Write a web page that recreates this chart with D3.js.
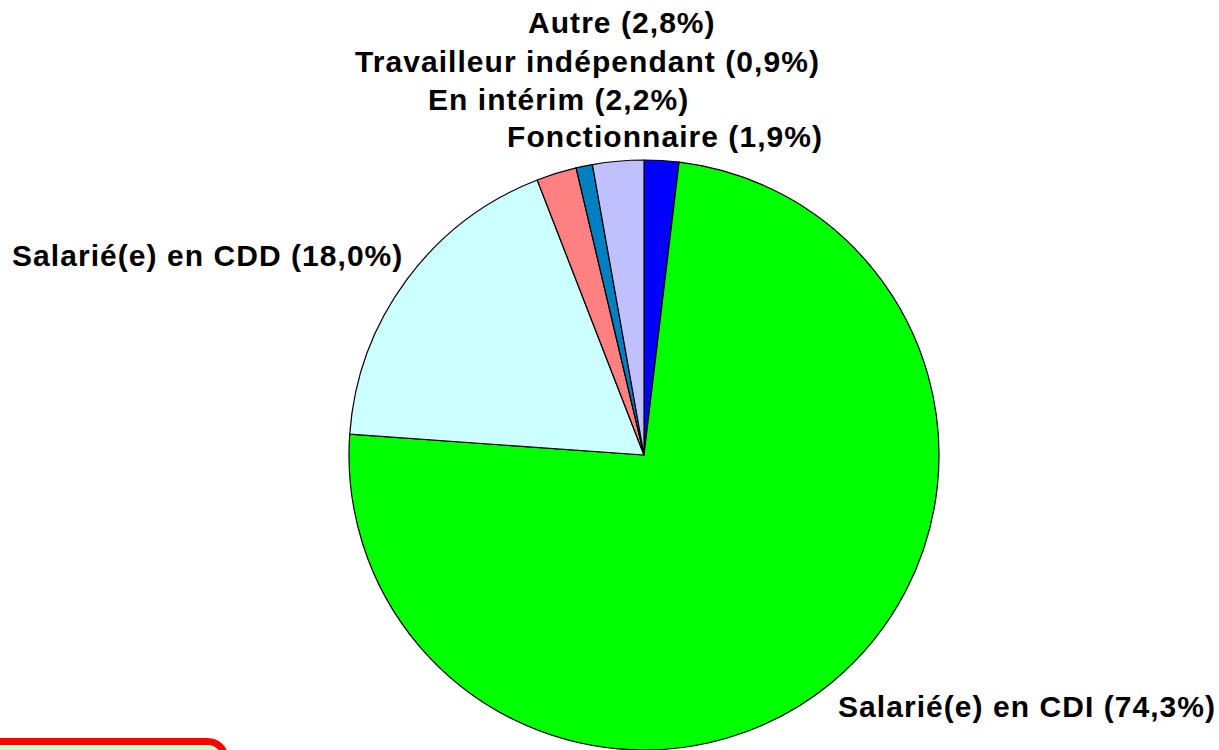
<!DOCTYPE html>
<html>
<head>
<meta charset="utf-8">
<script src="https://cdnjs.cloudflare.com/ajax/libs/d3/7.8.5/d3.min.js"></script>
<style>
  body { margin: 0; background: #fff; }
</style>
</head>
<body>
<svg></svg>
<script>
// categories, clockwise from 12 o'clock
let categories = ['Fonctionnaire', 'Salarié(e) en CDI', 'Salarié(e) en CDD', 'En intérim', 'Travailleur indépendant', 'Autre']
let values = [1.9, 74.3, 18.0, 2.2, 0.9, 2.8]
let colors = ['#0000ff', '#00ff00', '#ccffff', '#ff8080', '#0080c0', '#c0c0ff']

// label anchor points (left x, baseline y)
let labelPos = [
  [507, 147],
  [838, 717],
  [12, 266],
  [428, 110],
  [355, 72],
  [528, 33]
]

let width = 1219
let height = 750
let cx = 644
let cy = 455
let radius = 295

let svg = d3.select('svg')
  .attr('width', width)
  .attr('height', height)

let data = categories.map((c, i) => ({ name: c, value: values[i], color: colors[i], pos: labelPos[i] }))

let pie = d3.pie()
  .sort(null)
  .value(d => d.value)

let arc = d3.arc()
  .innerRadius(0)
  .outerRadius(radius)

let g = svg.append('g')
  .attr('transform', `translate(${cx},${cy})`)

g.selectAll('path')
  .data(pie(data))
  .enter()
  .append('path')
  .attr('d', arc)
  .attr('fill', d => d.data.color)
  .attr('stroke', '#000')
  .attr('stroke-width', 1.2)
  .attr('stroke-linejoin', 'round')

let fmt = v => v.toFixed(1).replace('.', ',')

svg.selectAll('text.lbl')
  .data(data)
  .enter()
  .append('text')
  .attr('class', 'lbl')
  .attr('x', d => d.pos[0])
  .attr('y', d => d.pos[1])
  .attr('font-family', 'Liberation Sans')
  .attr('font-weight', 'bold')
  .attr('font-size', 30)
  .attr('letter-spacing', 1.05)
  .text(d => d.name + ' (' + fmt(d.value) + '%)')

// partially visible box at bottom left
svg.append('rect')
  .attr('x', -30)
  .attr('y', 741.5)
  .attr('width', 255.5)
  .attr('height', 60)
  .attr('rx', 18)
  .attr('fill', '#ccffcc')
  .attr('stroke', '#ff0000')
  .attr('stroke-width', 7)
</script>
</body>
</html>
